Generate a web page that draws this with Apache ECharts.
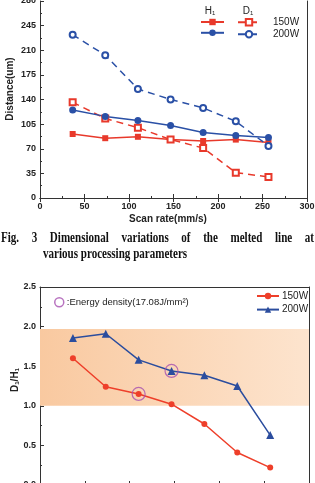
<!DOCTYPE html>
<html>
<head>
<meta charset="utf-8">
<script src="https://cdn.jsdelivr.net/npm/echarts@6/dist/echarts.min.js"></script>
<style>
  html, body { margin: 0; padding: 0; background: #fff; }
  #chart { width: 315px; height: 483px; }
</style>
</head>
<body>
<div id="chart"></div>
<script>
// scan rate (mm/s), shared by both panels
const scanRates = [36.7, 73.3, 110, 146.7, 183.3, 220, 256.7];

// Fig. 3 - dimensions of the melted line (um)
const h1_150 = [91, 85, 87, 83, 81, 83, 79];
const d1_150 = [136, 113, 100, 83, 71, 36, 30];
const h1_200 = [125, 116, 110, 103, 93, 89, 86];
const d1_200 = [232, 203, 155, 140, 128, 109, 74];

// D1/H1 ratio
const ratio150 = [1.60, 1.24, 1.15, 1.02, 0.77, 0.41, 0.22];
const ratio200 = [1.855, 1.91, 1.58, 1.44, 1.385, 1.25, 0.63];
const energyPoints = [[110, 1.15], [146.7, 1.44]];
const bandRange = [1.0, 1.97];

const captionLine1 = 'Fig. 3 Dimensional variations of the melted line at';
const captionLine2 = 'various processing parameters';

const RED = '#e8392b';
const BLUE = '#2a50a6';
const PURPLE = '#a650b0';
const sans = 'Liberation Sans';
const capFont = 'bold 14px Liberation Serif';
const capScale = 0.79;

const pair = ys => scanRates.map((x, i) => [x, ys[i]]);

const lbl = { fontFamily: sans, fontWeight: 'bold', fontSize: 9, color: '#222', margin: 4 };
const line = { lineStyle: { color: '#333', width: 1 } };

function xAx(grid, extra) {
  return Object.assign({
    type: 'value', gridIndex: grid, min: 0, max: 300, interval: 50,
    axisLine: line,
    axisTick: { inside: true, length: 4, lineStyle: { color: '#333' } },
    minorTick: { show: true, splitNumber: 2, length: 2, lineStyle: { color: '#333' } },
    axisLabel: lbl,
    splitLine: { show: false }
  }, extra);
}

function borderAx(grid, pos, isX) {
  return {
    type: 'value', gridIndex: grid, position: pos,
    min: isX ? 0 : null,
    axisLine: { show: true, onZero: false, lineStyle: { color: '#333', width: 1 } },
    axisTick: { show: false }, axisLabel: { show: false }, splitLine: { show: false }
  };
}

// spread the first caption line over the full width, like the justified print
const ctx = document.createElement('canvas').getContext('2d');
ctx.font = capFont;
const words = captionLine1.split(' ');
const widths = words.map(w => ctx.measureText(w).width * capScale);
const gap = (313 - widths.reduce((a, b) => a + b, 0)) / (words.length - 1);
let cx = 1;
const captionWords = words.map((w, i) => {
  const el = {
    type: 'text', x: cx, y: 238, scaleX: capScale,
    style: { text: w, font: capFont, fill: '#111', verticalAlign: 'middle' }
  };
  cx += widths[i] + gap;
  return el;
});

const chart = echarts.init(document.getElementById('chart'));

chart.setOption({
  animation: false,
  grid: [
    { left: 40, top: 1, width: 267, height: 197, outerBoundsMode: 'none', containLabel: false },
    { left: 40, top: 287, width: 269, height: 198, outerBoundsMode: 'none', containLabel: false }
  ],
  xAxis: [
    xAx(0, {}),
    xAx(0, { position: 'top', axisLabel: { show: false }, minorTick: { show: false } }),
    xAx(1, {}),
    Object.assign(borderAx(1, 'top', true), { max: 300 })
  ],
  yAxis: [
    {
      type: 'value', gridIndex: 0, min: 0, max: 280, interval: 35,
      axisLine: line,
      axisTick: { inside: true, length: 4, lineStyle: { color: '#333' } },
      minorTick: { show: true, splitNumber: 2, length: 2, lineStyle: { color: '#333' } },
      axisLabel: lbl, splitLine: { show: false }
    },
    Object.assign(borderAx(0, 'right', false), { min: 0, max: 280 }),
    {
      type: 'value', gridIndex: 1, min: 0, max: 2.5, interval: 0.5,
      axisLine: line,
      axisTick: { inside: true, length: 4, lineStyle: { color: '#333' } },
      minorTick: { show: true, splitNumber: 2, length: 2, lineStyle: { color: '#333' } },
      axisLabel: Object.assign({}, lbl, { formatter: v => v.toFixed(1) }),
      splitLine: { show: false }
    },
    Object.assign(borderAx(1, 'right', false), { min: 0, max: 2.5 })
  ],
  legend: [
    {
      data: ['H1 150W', 'H1 200W'], left: 200, top: 18, orient: 'vertical',
      itemWidth: 23, itemHeight: 8, itemGap: 3.6, formatter: () => '',
      textStyle: { fontSize: 8 }, padding: 0, selectedMode: false
    },
    {
      data: ['D1 150W', 'D1 200W'], left: 237, top: 18, orient: 'vertical',
      itemWidth: 22, itemHeight: 8, itemGap: 3.6, formatter: () => '',
      textStyle: { fontSize: 8 }, padding: 0, selectedMode: false
    },
    {
      data: ['150W', '200W'], left: 256, top: 291, orient: 'vertical',
      itemWidth: 22, itemHeight: 8, itemGap: 3.6, padding: 0, selectedMode: false,
      textStyle: { fontFamily: sans, fontSize: 10, color: '#222', padding: [0, 0, 0, -2] }
    },
    {
      data: [{
        name: ':Energy density(17.08J/mm²)', icon: 'circle',
        itemStyle: { color: '#fff', borderColor: PURPLE, borderWidth: 1.5 }
      }],
      left: 54, top: 297, itemWidth: 9, itemHeight: 9, padding: 0, selectedMode: false,
      textStyle: { fontFamily: sans, fontSize: 9.5, color: '#222', padding: [0, 0, 0, -2] }
    }
  ],
  series: [
    {
      name: 'H1 150W', type: 'line', xAxisIndex: 0, yAxisIndex: 0, data: pair(h1_150),
      symbol: 'rect', symbolSize: 6, itemStyle: { color: RED },
      lineStyle: { color: RED, width: 1.5 }
    },
    {
      name: 'D1 150W', type: 'line', xAxisIndex: 0, yAxisIndex: 0, data: pair(d1_150),
      symbol: 'emptyRect', symbolSize: 6, itemStyle: { color: RED, borderWidth: 1 },
      lineStyle: { color: RED, width: 1.5, type: [7, 5] }
    },
    {
      name: 'H1 200W', type: 'line', xAxisIndex: 0, yAxisIndex: 0, data: pair(h1_200),
      symbol: 'circle', symbolSize: 7, itemStyle: { color: BLUE },
      lineStyle: { color: BLUE, width: 1.5 }
    },
    {
      name: 'D1 200W', type: 'line', xAxisIndex: 0, yAxisIndex: 0, data: pair(d1_200),
      symbol: 'emptyCircle', symbolSize: 6, itemStyle: { color: BLUE, borderWidth: 1 },
      lineStyle: { color: BLUE, width: 1.5, type: [7, 5] }
    },
    {
      name: 'band', type: 'line', xAxisIndex: 2, yAxisIndex: 2, data: [], z: 1, silent: true,
      markArea: {
        silent: true,
        itemStyle: {
          color: new echarts.graphic.LinearGradient(0, 0, 1, 0, [
            { offset: 0, color: '#f9c9a0' },
            { offset: 1, color: '#fde4ce' }
          ])
        },
        data: [[{ yAxis: bandRange[0] }, { yAxis: bandRange[1] }]]
      }
    },
    {
      name: '150W', type: 'line', xAxisIndex: 2, yAxisIndex: 2, data: pair(ratio150),
      symbol: 'circle', symbolSize: 6, itemStyle: { color: '#ee3f2a' },
      lineStyle: { color: '#ee3f2a', width: 1.5 }, z: 3
    },
    {
      name: '200W', type: 'line', xAxisIndex: 2, yAxisIndex: 2, data: pair(ratio200),
      symbol: 'triangle', symbolSize: 8, itemStyle: { color: '#2b4d9e' },
      lineStyle: { color: '#2b4d9e', width: 1.5 }, z: 3
    },
    {
      name: ':Energy density(17.08J/mm²)', type: 'scatter', xAxisIndex: 2, yAxisIndex: 2,
      data: energyPoints, symbol: 'circle', symbolSize: 13, z: 4,
      itemStyle: { color: 'rgba(0,0,0,0)', borderColor: PURPLE, borderWidth: 1.2 }
    }
  ],
  graphic: captionWords.concat([
    {
      type: 'text', x: 10, y: 89, rotation: Math.PI / 2,
      style: { text: 'Distance(um)', font: 'bold 10px ' + sans, fill: '#222', align: 'center', verticalAlign: 'middle' }
    },
    {
      type: 'text', x: 168, y: 219,
      style: { text: 'Scan rate(mm/s)', font: 'bold 10px ' + sans, fill: '#222', align: 'center', verticalAlign: 'middle' }
    },
    {
      type: 'text', x: 210, y: 11,
      style: {
        text: 'H{s|1}', font: '10px ' + sans, fill: '#222', align: 'center', verticalAlign: 'middle',
        rich: { s: { fontSize: 6, fontFamily: sans, verticalAlign: 'bottom', padding: [4, 0, 0, 0] } }
      }
    },
    {
      type: 'text', x: 248, y: 11,
      style: {
        text: 'D{s|1}', font: '10px ' + sans, fill: '#222', align: 'center', verticalAlign: 'middle',
        rich: { s: { fontSize: 6, fontFamily: sans, verticalAlign: 'bottom', padding: [4, 0, 0, 0] } }
      }
    },
    {
      type: 'text', x: 273, y: 22.7,
      style: { text: '150W', font: '10px ' + sans, fill: '#222', verticalAlign: 'middle' }
    },
    {
      type: 'text', x: 273, y: 34.3,
      style: { text: '200W', font: '10px ' + sans, fill: '#222', verticalAlign: 'middle' }
    },
    {
      type: 'text', x: 43, y: 254, scaleX: capScale,
      style: { text: captionLine2, font: capFont, fill: '#111', verticalAlign: 'middle' }
    },
    {
      type: 'text', x: 15, y: 380, rotation: Math.PI / 2,
      style: {
        text: 'D{s|1}/H{s|1}', font: 'bold 10px ' + sans, fill: '#222', align: 'center', verticalAlign: 'middle',
        rich: { s: { fontSize: 6, fontWeight: 'bold', fontFamily: sans, padding: [4, 0, 0, 0] } }
      }
    }
  ])
});
</script>
</body>
</html>
